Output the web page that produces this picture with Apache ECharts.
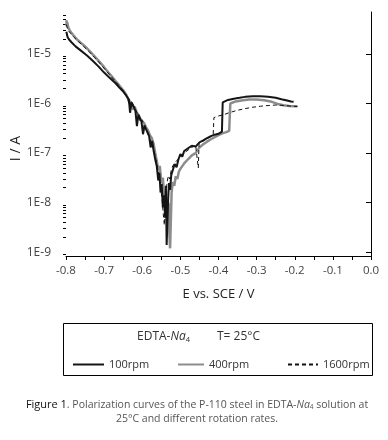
<!DOCTYPE html>
<html>
<head>
<meta charset="utf-8">
<script src="https://cdn.jsdelivr.net/npm/echarts@6/dist/echarts.min.js"></script>
<style>
  html, body { margin: 0; padding: 0; background: #fff; }
  #chart { width: 388px; height: 440px; }
</style>
</head>
<body>
<div id="chart"></div>
<script>
// [E (V vs SCE), I (A)]
const curve100 = [
  [-0.799, 2.8e-5], [-0.796, 2.2e-5], [-0.792, 1.95e-5], [-0.785, 1.7e-5], [-0.775, 1.42e-5],
  [-0.76, 1.15e-5], [-0.745, 9.3e-6], [-0.73, 7.3e-6], [-0.715, 5.6e-6], [-0.70, 4.2e-6],
  [-0.685, 3.25e-6], [-0.67, 2.55e-6], [-0.66, 2.1e-6], [-0.65, 1.75e-6], [-0.645, 1.55e-6],
  [-0.64, 1.45e-6], [-0.635, 1.2e-6], [-0.632, 6.5e-7], [-0.628, 1.05e-6], [-0.622, 8.5e-7],
  [-0.618, 7.2e-7], [-0.614, 3.5e-7], [-0.61, 6.0e-7], [-0.606, 5.0e-7], [-0.602, 4.3e-7],
  [-0.598, 2.4e-7], [-0.594, 3.6e-7], [-0.59, 3.0e-7], [-0.586, 2.6e-7], [-0.582, 2.2e-7],
  [-0.578, 1.3e-7], [-0.574, 1.75e-7], [-0.57, 1.1e-7], [-0.566, 7.5e-8], [-0.562, 5.5e-8],
  [-0.558, 2.8e-8], [-0.555, 4.0e-8], [-0.552, 1.6e-8], [-0.549, 2.4e-8], [-0.546, 8e-9],
  [-0.543, 1.4e-8], [-0.54, 5e-9], [-0.538, 2.2e-8], [-0.536, 1.4e-9], [-0.534, 1.3e-9],
  [-0.532, 1.2e-8], [-0.53, 2.5e-8], [-0.527, 1.8e-8], [-0.524, 3.6e-8], [-0.52, 4.5e-8],
  [-0.515, 6.0e-8], [-0.51, 5.2e-8], [-0.505, 7.5e-8], [-0.50, 9.5e-8], [-0.495, 8.5e-8],
  [-0.49, 1.1e-7], [-0.48, 1.25e-7], [-0.47, 1.4e-7], [-0.46, 1.35e-7], [-0.45, 1.65e-7],
  [-0.44, 1.8e-7], [-0.43, 2.0e-7], [-0.42, 2.2e-7], [-0.41, 2.35e-7], [-0.40, 2.45e-7],
  [-0.395, 2.6e-7], [-0.391, 2.7e-7], [-0.389, 1.05e-6], [-0.385, 1.1e-6], [-0.375, 1.18e-6],
  [-0.36, 1.25e-6], [-0.345, 1.3e-6], [-0.33, 1.36e-6], [-0.31, 1.4e-6], [-0.29, 1.4e-6],
  [-0.27, 1.37e-6], [-0.25, 1.3e-6], [-0.235, 1.22e-6], [-0.22, 1.15e-6], [-0.21, 1.1e-6],
  [-0.203, 1.08e-6]
]

const curve400 = [
  [-0.799, 4.8e-5], [-0.798, 3.6e-5], [-0.797, 4.4e-5], [-0.794, 3.4e-5], [-0.788, 2.8e-5],
  [-0.78, 2.35e-5], [-0.771, 1.95e-5], [-0.76, 1.65e-5], [-0.745, 1.3e-5], [-0.73, 9.8e-6],
  [-0.715, 7.3e-6], [-0.70, 5.4e-6], [-0.685, 3.9e-6], [-0.67, 2.85e-6], [-0.66, 2.3e-6],
  [-0.65, 1.85e-6], [-0.642, 1.5e-6], [-0.636, 1.2e-6], [-0.63, 1.05e-6], [-0.624, 7.5e-7],
  [-0.62, 8.6e-7], [-0.615, 6.8e-7], [-0.61, 5.8e-7], [-0.605, 4.9e-7], [-0.60, 5.2e-7],
  [-0.595, 4.0e-7], [-0.59, 3.3e-7], [-0.585, 2.9e-7], [-0.58, 2.3e-7], [-0.575, 2.0e-7],
  [-0.57, 1.5e-7], [-0.566, 1.0e-7], [-0.562, 7e-8], [-0.558, 4.5e-8], [-0.554, 5.5e-8],
  [-0.55, 2.5e-8], [-0.546, 3.2e-8], [-0.542, 1.2e-8], [-0.538, 1.8e-8], [-0.534, 6e-9],
  [-0.531, 1.0e-8], [-0.529, 2.5e-9], [-0.527, 1.2e-9], [-0.525, 1.3e-9], [-0.523, 1.6e-8],
  [-0.52, 2.6e-8], [-0.516, 2.2e-8], [-0.512, 3.4e-8], [-0.508, 3.0e-8], [-0.504, 4.2e-8],
  [-0.50, 4.8e-8], [-0.495, 4.4e-8], [-0.49, 6.2e-8], [-0.485, 5.8e-8], [-0.48, 7.5e-8],
  [-0.47, 9.0e-8], [-0.46, 1.0e-7], [-0.45, 1.3e-7], [-0.44, 1.5e-7], [-0.43, 1.7e-7],
  [-0.42, 1.9e-7], [-0.41, 2.1e-7], [-0.40, 2.3e-7], [-0.39, 2.5e-7], [-0.38, 2.65e-7],
  [-0.372, 2.8e-7], [-0.369, 1.0e-6], [-0.365, 1.05e-6], [-0.355, 1.1e-6], [-0.34, 1.15e-6],
  [-0.32, 1.2e-6], [-0.30, 1.2e-6], [-0.28, 1.16e-6], [-0.26, 1.08e-6], [-0.245, 9.8e-7],
  [-0.23, 9.2e-7], [-0.215, 8.9e-7], [-0.20, 8.8e-7], [-0.193, 8.8e-7]
]

const curve1600 = [
  [-0.799, 3.9e-5], [-0.795, 3.0e-5], [-0.788, 2.6e-5], [-0.78, 2.2e-5], [-0.77, 1.85e-5],
  [-0.755, 1.45e-5], [-0.74, 1.12e-5], [-0.725, 8.5e-6], [-0.71, 6.3e-6], [-0.695, 4.6e-6],
  [-0.68, 3.4e-6], [-0.665, 2.5e-6], [-0.65, 1.8e-6], [-0.64, 1.4e-6], [-0.634, 9e-7],
  [-0.628, 1.1e-6], [-0.62, 8e-7], [-0.612, 6.2e-7], [-0.606, 4.2e-7], [-0.60, 4.6e-7],
  [-0.594, 3.4e-7], [-0.588, 2.8e-7], [-0.582, 2.1e-7], [-0.576, 1.6e-7], [-0.57, 1.2e-7],
  [-0.565, 8e-8], [-0.56, 5e-8], [-0.556, 3.5e-8], [-0.552, 2e-8], [-0.548, 1.2e-8],
  [-0.545, 6e-9], [-0.542, 3.5e-9], [-0.539, 9e-9], [-0.536, 2.2e-8], [-0.532, 3.5e-8],
  [-0.528, 3e-8], [-0.524, 4.5e-8], [-0.52, 5.5e-8], [-0.51, 7e-8], [-0.50, 8.5e-8],
  [-0.49, 1.0e-7], [-0.48, 1.15e-7], [-0.47, 1.3e-7], [-0.46, 1.45e-7], [-0.455, 1.5e-7],
  [-0.453, 5e-8], [-0.451, 1.55e-7], [-0.44, 1.75e-7], [-0.43, 1.95e-7], [-0.42, 2.15e-7],
  [-0.414, 2.3e-7], [-0.412, 5.2e-7], [-0.40, 5.6e-7], [-0.385, 6.0e-7], [-0.37, 6.6e-7],
  [-0.35, 7.3e-7], [-0.33, 7.9e-7], [-0.31, 8.4e-7], [-0.29, 8.8e-7], [-0.27, 9.1e-7],
  [-0.25, 9.3e-7], [-0.235, 9.2e-7], [-0.22, 9.0e-7], [-0.205, 8.8e-7], [-0.193, 8.7e-7]
]

const xLabels = [-0.8, -0.7, -0.6, -0.5, -0.4, -0.3, -0.2, -0.1, 0.0]
const yMajor = [1e-9, 1e-8, 1e-7, 1e-6, 1e-5]
const yMin = 8.4e-10
const yMax = 7e-5

// log minor ticks 2..9 in each decade
const yMinor = []
for (let d = -10; d <= -5; d++) {
  for (let m = 2; m <= 9; m++) {
    const v = m * Math.pow(10, d)
    if (v > yMin && v < yMax) yMinor.push(v)
  }
}

const FONT = 'Open Sans'
const chart = echarts.init(document.getElementById('chart'), null, { renderer: 'canvas' })

// line legend icons draw a symbol too, hide it
const legendBase = {
  top: 354,
  itemHeight: 12,
  itemStyle: { opacity: 0 },
  textStyle: { fontFamily: FONT, fontSize: 11, color: '#333' },
  selectedMode: false,
}

chart.setOption({
  animation: false,
  backgroundColor: '#fff',
  grid: { left: 66, right: 17, top: 12, bottom: 184, outerBoundsMode: 'none' },
  legend: [
    { ...legendBase, data: ['100rpm'], left: 67, itemWidth: 31 },
    { ...legendBase, data: ['400rpm'], left: 172, itemWidth: 26 },
    { ...legendBase, data: ['1600rpm'], left: 282, itemWidth: 30 },
  ],
  xAxis: {
    type: 'value',
    min: -0.8,
    max: 0,
    interval: 0.05,
    name: 'E vs. SCE / V',
    nameLocation: 'middle',
    nameGap: 32,
    nameTextStyle: { fontFamily: FONT, fontSize: 13, color: '#222' },
    axisLine: { onZero: false, lineStyle: { color: '#000', width: 1 } },
    axisTick: { inside: false, length: 4, lineStyle: { color: '#000' } },
    axisLabel: {
      customValues: xLabels,
      margin: 9,
      fontFamily: FONT,
      fontSize: 11.5,
      color: '#444',
      formatter: (v) => v.toFixed(1),
    },
    splitLine: { show: false },
  },
  yAxis: [
    {
      type: 'log',
      logBase: 10,
      min: yMin,
      max: yMax,
      axisLine: { show: true, lineStyle: { color: '#000', width: 1 } },
      axisTick: { show: true, customValues: yMajor, length: 5, lineStyle: { color: '#000' } },
      axisLabel: {
        customValues: yMajor,
        margin: 15,
        fontFamily: FONT,
        fontSize: 12,
        color: '#444',
        formatter: (v) => '1E' + Math.round(Math.log10(v)),
      },
      splitLine: { show: false },
    },
    {
      type: 'log',
      logBase: 10,
      min: yMin,
      max: yMax,
      position: 'left',
      axisLine: { show: false },
      axisTick: { show: true, customValues: yMinor, length: 3, lineStyle: { color: '#000' } },
      axisLabel: { show: false },
      splitLine: { show: false },
    },
  ],
  series: [
    {
      name: '400rpm',
      type: 'line',
      symbol: 'none',
      data: curve400,
      lineStyle: { color: '#8c8c8c', width: 2.5 },
      itemStyle: { color: '#8c8c8c' },
      z: 2,
    },
    {
      name: '100rpm',
      type: 'line',
      symbol: 'none',
      data: curve100,
      lineStyle: { color: '#151515', width: 2 },
      itemStyle: { color: '#151515' },
      z: 3,
    },
    {
      name: '1600rpm',
      type: 'line',
      symbol: 'none',
      data: curve1600,
      lineStyle: { color: '#111', width: 1, type: [4, 3] },
      itemStyle: { color: '#111' },
      z: 4,
    },
  ],
  graphic: [
    {
      type: 'text',
      left: 9,
      top: 136,
      rotation: Math.PI / 2,
      style: { text: 'I / A', fontFamily: FONT, fontSize: 14, fill: '#222' },
    },
    {
      type: 'rect',
      shape: { x: 63.5, y: 323.5, width: 309, height: 52 },
      style: { fill: 'none', stroke: '#000', lineWidth: 1 },
    },
    {
      type: 'text',
      x: 137,
      y: 337,
      style: {
        text: 'EDTA-{i|Na}{s|4}',
        fontFamily: FONT, fontSize: 12, fill: '#333', verticalAlign: 'middle',
        rich: {
          i: { fontFamily: FONT, fontSize: 12, fontStyle: 'italic', fill: '#333' },
          s: { fontFamily: FONT, fontSize: 7.5, fill: '#333', padding: [6, 0, 0, 0] },
        },
      },
    },
    {
      type: 'text',
      x: 217,
      y: 337,
      style: { text: 'T= 25°C', fontFamily: FONT, fontSize: 12, fill: '#333', verticalAlign: 'middle' },
    },
    {
      type: 'text',
      x: 197,
      y: 405,
      style: {
        text: '{b|Figure 1}. Polarization curves of the P-110 steel in EDTA-{i|Na}{s|4} solution at',
        fontFamily: FONT, fontSize: 10.5, fill: '#555', align: 'center', verticalAlign: 'middle',
        rich: {
          b: { fontFamily: FONT, fontSize: 11, fill: '#111' },
          i: { fontFamily: FONT, fontSize: 10.5, fontStyle: 'italic', fill: '#555' },
          s: { fontFamily: FONT, fontSize: 6.5, fill: '#555', padding: [5, 0, 0, 0] },
        },
      },
    },
    {
      type: 'text',
      x: 197,
      y: 419,
      style: {
        text: '25°C and different rotation rates.',
        fontFamily: FONT, fontSize: 10.5, fill: '#555', align: 'center', verticalAlign: 'middle',
      },
    },
  ],
})
</script>
</body>
</html>
